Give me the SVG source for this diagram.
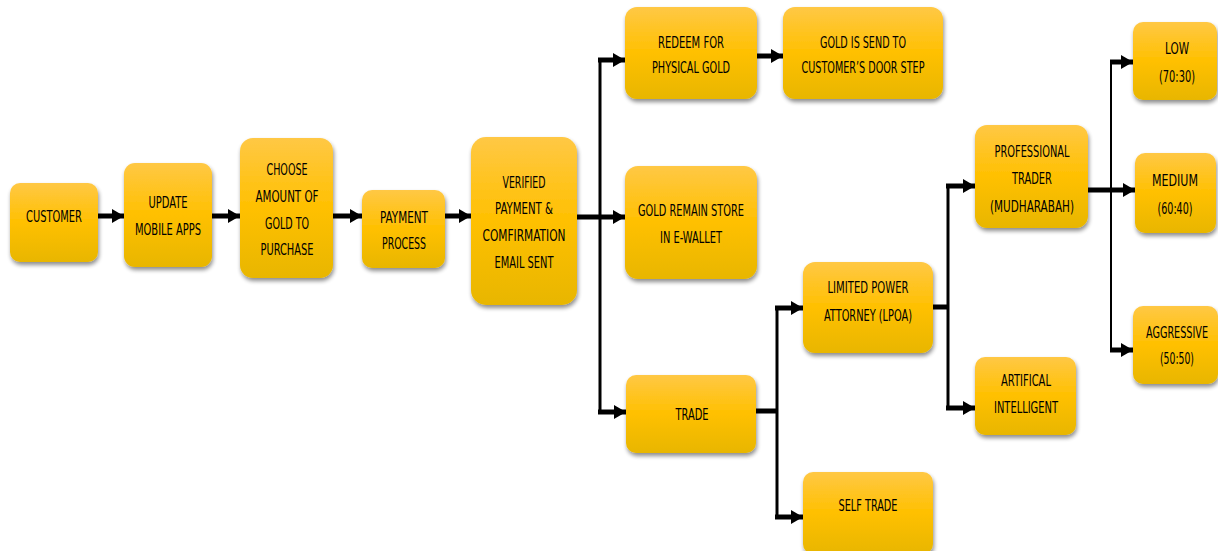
<svg xmlns="http://www.w3.org/2000/svg" width="1218" height="551" viewBox="0 0 1218 551">
<defs>
<linearGradient id="g" x1="0" y1="0" x2="0" y2="1">
<stop offset="0" stop-color="#FFC845"/>
<stop offset="0.5" stop-color="#FFC000"/>
<stop offset="1" stop-color="#E8B600"/>
</linearGradient>
<filter id="sh" x="-10%" y="-10%" width="125%" height="130%">
<feGaussianBlur in="SourceAlpha" stdDeviation="2"/>
<feOffset dx="1" dy="3" result="o"/>
<feComponentTransfer><feFuncA type="linear" slope="0.45"/></feComponentTransfer>
<feMerge><feMergeNode/><feMergeNode in="SourceGraphic"/></feMerge>
</filter>
<marker id="ah" markerUnits="userSpaceOnUse" markerWidth="14" markerHeight="16" refX="12" refY="8" orient="auto">
<path d="M0,1 L12,8 L0,15 Z" fill="#000"/>
</marker>
<style>
.box{fill:url(#g);filter:url(#sh);}
text{font-family:"DejaVu Sans Condensed","Liberation Sans Narrow",sans-serif;font-size:16px;fill:#000;text-anchor:middle;dominant-baseline:central;}
.c{fill:none;stroke:#000;stroke-width:5;}
.v{fill:none;stroke:#000;stroke-width:3;}
.t{fill:none;stroke:#000;stroke-width:2;}
.a{marker-end:url(#ah);}
</style>
</defs>
<g id="connectors">
<path class="c a" d="M98,216 H124"/>
<path class="c a" d="M212,216 H240"/>
<path class="c a" d="M333,216 H362"/>
<path class="c a" d="M445,216 H471"/>
<path class="c a" d="M577,217 H625"/>
<path class="v" d="M600,60 V412"/>
<path class="c a" d="M598,60 H625"/>
<path class="c a" d="M598,412 H626"/>
<path class="c a" d="M757,56 H783"/>
<path class="c" d="M756,411 H777"/>
<path class="v" d="M777,308 V517"/>
<path class="c a" d="M775,308 H803"/>
<path class="c a" d="M775,517 H803"/>
<path class="c" d="M933,307 H948"/>
<path class="v" d="M948,186 V408"/>
<path class="c a" d="M946,186 H975"/>
<path class="c a" d="M946,408 H975"/>
<path class="c a" d="M1088,190 H1135"/>
<path class="t" d="M1111,62 V350"/>
<path class="c a" d="M1110,62 H1133"/>
<path class="c a" d="M1110,350 H1133"/>
</g>
<g id="customer"><rect class="box" x="10" y="183" width="88" height="79" rx="10"/><text x="54" y="216" textLength="56" lengthAdjust="spacingAndGlyphs">CUSTOMER</text></g>
<g id="update"><rect class="box" x="124" y="163" width="88" height="104" rx="11"/><text x="168" y="202" textLength="39" lengthAdjust="spacingAndGlyphs">UPDATE</text><text x="168" y="229" textLength="66" lengthAdjust="spacingAndGlyphs">MOBILE APPS</text></g>
<g id="choose"><rect class="box" x="240" y="138" width="93" height="140" rx="13"/><text x="287" y="169" textLength="41" lengthAdjust="spacingAndGlyphs">CHOOSE</text><text x="287" y="196" textLength="63" lengthAdjust="spacingAndGlyphs">AMOUNT OF</text><text x="287" y="223" textLength="44" lengthAdjust="spacingAndGlyphs">GOLD TO</text><text x="287" y="249" textLength="53" lengthAdjust="spacingAndGlyphs">PURCHASE</text></g>
<g id="payment"><rect class="box" x="362" y="190" width="83" height="78" rx="10"/><text x="404" y="217" textLength="48" lengthAdjust="spacingAndGlyphs">PAYMENT</text><text x="404" y="243" textLength="44" lengthAdjust="spacingAndGlyphs">PROCESS</text></g>
<g id="verified"><rect class="box" x="471" y="137" width="106" height="168" rx="15"/><text x="524" y="182" textLength="43" lengthAdjust="spacingAndGlyphs">VERIFIED</text><text x="524" y="208" textLength="58" lengthAdjust="spacingAndGlyphs">PAYMENT &amp;</text><text x="524" y="235" textLength="83" lengthAdjust="spacingAndGlyphs">COMFIRMATION</text><text x="524" y="262" textLength="59" lengthAdjust="spacingAndGlyphs">EMAIL SENT</text></g>
<g id="redeem"><rect class="box" x="625" y="7" width="132" height="92" rx="12"/><text x="691" y="42" textLength="66" lengthAdjust="spacingAndGlyphs">REDEEM FOR</text><text x="691" y="67" textLength="78" lengthAdjust="spacingAndGlyphs">PHYSICAL GOLD</text></g>
<g id="gold-send"><rect class="box" x="783" y="7" width="160" height="92" rx="12"/><text x="863" y="42" textLength="86" lengthAdjust="spacingAndGlyphs">GOLD IS SEND TO</text><text x="863" y="67" textLength="123" lengthAdjust="spacingAndGlyphs">CUSTOMER’S DOOR STEP</text></g>
<g id="gold-remain"><rect class="box" x="625" y="166" width="132" height="113" rx="13"/><text x="691" y="210" textLength="106" lengthAdjust="spacingAndGlyphs">GOLD REMAIN STORE</text><text x="691" y="237" textLength="62" lengthAdjust="spacingAndGlyphs">IN E-WALLET</text></g>
<g id="trade"><rect class="box" x="626" y="375" width="130" height="78" rx="10"/><text x="692" y="414" textLength="33" lengthAdjust="spacingAndGlyphs">TRADE</text></g>
<g id="lpoa"><rect class="box" x="803" y="262" width="130" height="91" rx="12"/><text x="868" y="287" textLength="81" lengthAdjust="spacingAndGlyphs">LIMITED POWER</text><text x="868" y="315" textLength="88" lengthAdjust="spacingAndGlyphs">ATTORNEY (LPOA)</text></g>
<g id="self-trade"><rect class="box" x="803" y="472" width="130" height="82" rx="10"/><text x="868" y="505" textLength="59" lengthAdjust="spacingAndGlyphs">SELF TRADE</text></g>
<g id="professional"><rect class="box" x="975" y="125" width="113" height="103" rx="12"/><text x="1032" y="151" textLength="75" lengthAdjust="spacingAndGlyphs">PROFESSIONAL</text><text x="1032" y="178" textLength="40" lengthAdjust="spacingAndGlyphs">TRADER</text><text x="1032" y="206" textLength="84" lengthAdjust="spacingAndGlyphs">(MUDHARABAH)</text></g>
<g id="artifical"><rect class="box" x="975" y="357" width="101" height="78" rx="10"/><text x="1026" y="380" textLength="50" lengthAdjust="spacingAndGlyphs">ARTIFICAL</text><text x="1026" y="407" textLength="64" lengthAdjust="spacingAndGlyphs">INTELLIGENT</text></g>
<g id="low"><rect class="box" x="1133" y="22" width="84" height="78" rx="10"/><text x="1177" y="48" textLength="24" lengthAdjust="spacingAndGlyphs">LOW</text><text x="1177" y="76" textLength="36" lengthAdjust="spacingAndGlyphs">(70:30)</text></g>
<g id="medium"><rect class="box" x="1135" y="153" width="81" height="80" rx="10"/><text x="1175" y="180" textLength="46" lengthAdjust="spacingAndGlyphs">MEDIUM</text><text x="1175" y="208" textLength="35" lengthAdjust="spacingAndGlyphs">(60:40)</text></g>
<g id="aggressive"><rect class="box" x="1133" y="306" width="85" height="78" rx="10"/><text x="1177" y="332" textLength="62" lengthAdjust="spacingAndGlyphs">AGGRESSIVE</text><text x="1177" y="358" textLength="34" lengthAdjust="spacingAndGlyphs">(50:50)</text></g>
</svg>
